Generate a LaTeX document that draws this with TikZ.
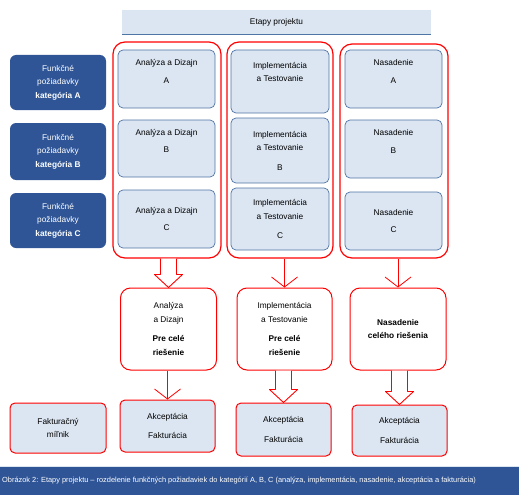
\documentclass[tikz,border=0pt]{standalone}
\usepackage{fontspec}
\setmainfont{Liberation Sans}
\usetikzlibrary{arrows.meta,calc}
\definecolor{paleblue}{HTML}{DCE6F2}
\definecolor{darkblue}{HTML}{2F5597}
\definecolor{edgeblue}{HTML}{4F74A6}
\newcommand{\blockarrow}[2]{%
  \draw[blockarr] ($(#1 -| #2)+(-8,0)$) -- ($(#2)+(-8,-13)$) -- ($(#2)+(-14,-13)$) -- (#2)
    -- ($(#2)+(14,-13)$) -- ($(#2)+(8,-13)$) -- ($(#1 -| #2)+(8,0)$);}
\begin{document}
\begin{tikzpicture}[x=1pt,y=-1pt,line join=round,
  font=\fontsize{8.3}{13.5}\selectfont,
  hdr/.style={fill=paleblue,minimum width=309pt,minimum height=24pt,inner sep=0pt},
  cat/.style={fill=darkblue,text=white,rounded corners=6pt,minimum width=96pt,align=center,inner sep=0pt},
  frame/.style={draw=red,line width=1.2pt,rounded corners=12pt,inner sep=0pt},
  phase/.style={fill=paleblue,draw=edgeblue,line width=0.7pt,rounded corners=5pt,align=center,inner sep=0pt},
  stage/.style={draw=red,fill=white,line width=1pt,rounded corners=10pt,minimum width=96pt,minimum height=82pt,align=center,inner sep=0pt},
  bill/.style={fill=paleblue,draw=red,line width=1pt,rounded corners=5pt,minimum width=95pt,align=center,inner sep=0pt},
  thinarr/.style={draw=red,line width=0.8pt,-{Straight Barb[length=10pt,width=26pt]}},
  blockarr/.style={draw=red,line width=0.9pt,fill=white}]
\useasboundingbox (0,0) rectangle (519,495);
\node[hdr] (hdr) at (276.5,22) {Etapy projektu};
\draw[edgeblue,line width=1.2pt] (hdr.south west) -- (hdr.south east);
\node[cat,minimum height=55pt] (catA) at (58,82.5) {Funkčné\\požiadavky\\\textbf{kategória A}};
\node[cat,minimum height=57pt] (catB) at (58,151.5) {Funkčné\\požiadavky\\\textbf{kategória B}};
\node[cat,minimum height=55pt] (catC) at (58,220.5) {Funkčné\\požiadavky\\\textbf{kategória C}};
\node[frame,minimum width=108pt,minimum height=216pt] (col1) at (167,150) {};
\node[frame,minimum width=106pt,minimum height=216pt] (col2) at (280,150) {};
\node[frame,minimum width=108pt,minimum height=214pt] (col3) at (394,151) {};
\node[phase,minimum width=97pt,minimum height=58pt] (adA) at (166.5,79) {Analýza a Dizajn\\[4pt]A\\[2pt]~};
\node[phase,minimum width=97pt,minimum height=57pt] (adB) at (166.5,148.5) {Analýza a Dizajn\\[4pt]B\\[2pt]~};
\node[phase,minimum width=97pt,minimum height=58pt] (adC) at (166.5,219) {Analýza a Dizajn\\[4pt]C};
\node[phase,minimum width=98pt,minimum height=63pt] (itA) at (280,81.5) {Implementácia\\a Testovanie\\[6pt]~};
\node[phase,minimum width=98pt,minimum height=65pt] (itB) at (280,150.5) {Implementácia\\a Testovanie\\[6pt]B};
\node[phase,minimum width=98pt,minimum height=62pt] (itC) at (280,219) {Implementácia\\a Testovanie\\[6pt]C};
\node[phase,minimum width=97pt,minimum height=58pt] (nsA) at (393.5,79) {Nasadenie\\[4pt]A\\[2pt]~};
\node[phase,minimum width=97pt,minimum height=58pt] (nsB) at (393.5,149) {Nasadenie\\[4pt]B\\[2pt]~};
\node[phase,minimum width=97pt,minimum height=58pt] (nsC) at (393.5,221) {Nasadenie\\[4pt]C};
\node[stage] (mid1) at (168.5,329) {Analýza\\a Dizajn\\[6pt]\textbf{Pre celé}\\\textbf{riešenie}};
\node[stage,minimum width=95pt] (mid2) at (284.5,329) {Implementácia\\a Testovanie\\[6pt]\textbf{Pre celé}\\\textbf{riešenie}};
\node[stage] (mid3) at (398,329) {\textbf{Nasadenie}\\\textbf{celého riešenia}};
\node[bill,minimum width=96pt,minimum height=50pt] (fak) at (58,428) {Fakturačný\\míľnik};
\node[bill,minimum height=52pt] (bill1) at (167.5,426) {Akceptácia\\[6pt]Fakturácia};
\node[bill,minimum height=53pt] (bill2) at (283.5,429.5) {Akceptácia\\[6pt]Fakturácia};
\node[bill,minimum height=51pt] (bill3) at (399.5,430.5) {Akceptácia\\[6pt]Fakturácia};
\blockarrow{col1.south}{mid1.north}
\draw[thinarr] (col2.south -| mid2.north) -- (mid2.north);
\draw[thinarr] (col3.south -| mid3.north) -- (mid3.north);
\draw[thinarr] (mid1.south -| bill1.north) -- (bill1.north);
\blockarrow{mid2.south}{bill2.north}
\blockarrow{mid3.south}{bill3.north}
\fill[darkblue] (0,466) rectangle (519,495);
\draw[paleblue,line width=1pt] (0,466) -- (519,466);
\node[anchor=west,text=white,font=\fontsize{7.4}{9}\selectfont,inner sep=0pt] (caption) at (2,481)
  {Obrázok 2: Etapy projektu – rozdelenie funkčných požiadaviek do kategórií A, B, C (analýza, implementácia, nasadenie, akceptácia a fakturácia)};
\end{tikzpicture}
\end{document}
